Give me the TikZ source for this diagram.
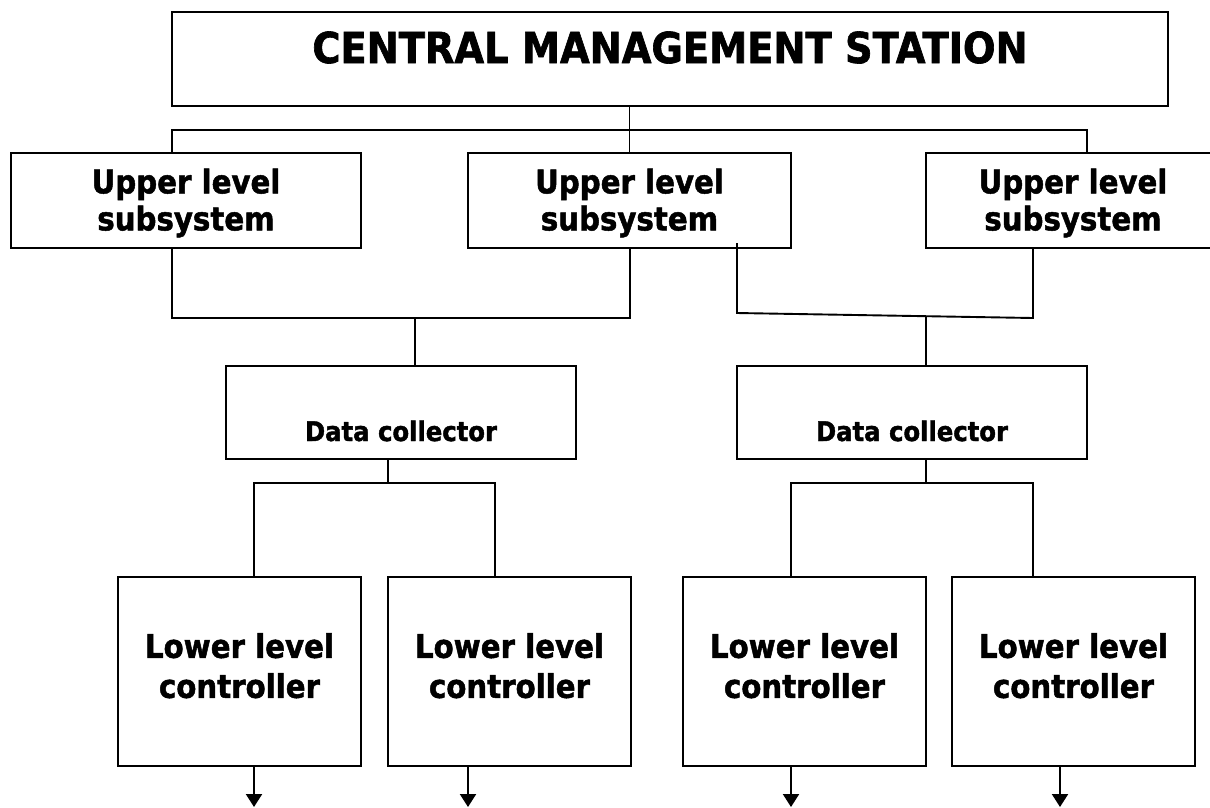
\documentclass[tikz,border=0pt]{standalone}
\usepackage{fontspec}
\setmainfont[FakeStretch=0.9, BoldFeatures={FakeBold=1.5}]{DejaVu Sans}
\usetikzlibrary{arrows.meta}
\tikzset{
  blk/.style={draw=black, line width=2pt, fill=white, inner sep=0pt, align=center, font=\bfseries},
  wire/.style={draw=black, line width=1.9pt},
  outarrow/.style={draw=black, line width=2.2pt, -{Triangle[width=16pt,length=13pt]}},
  uptext/.style={font=\bfseries\fontsize{32.5}{37}\selectfont},
  lowtext/.style={font=\bfseries\fontsize{32.5}{40}\selectfont},
  dctext/.style={font=\bfseries\fontsize{27}{32}\selectfont, text height=62pt, text depth=5pt},
}
\begin{document}
\begin{tikzpicture}[x=1pt, y=-1pt]
\useasboundingbox (0,0) rectangle (1210,807);
\fill[white] (0,0) rectangle (1210,807);

% central management station
\node[blk, minimum width=996pt, minimum height=94pt, text height=31pt, text depth=23pt,
      font=\bfseries\fontsize{42.6}{50}\selectfont] (cms) at (670,59) {CENTRAL MANAGEMENT STATION};

% upper level subsystems
\node[blk, uptext, minimum width=350pt, minimum height=95pt] (ul) at (186,200.5)
  {\rule{0pt}{29.7pt}Upper level\\subsystem};
\node[blk, uptext, minimum width=323pt, minimum height=95pt] (um) at (629.5,200.5)
  {\rule{0pt}{29.7pt}Upper level\\subsystem};
\node[blk, uptext, minimum width=294pt, minimum height=95pt] (ur) at (1073,200.5)
  {\rule{0pt}{29.7pt}Upper level\\subsystem};

% data collectors
\node[blk, dctext, minimum width=350pt, minimum height=93pt] (dcL) at (401,412.5) {Data collector};
\node[blk, dctext, minimum width=350pt, minimum height=93pt] (dcR) at (912,412.5) {Data collector};

% lower level controllers
\node[blk, lowtext, minimum width=243pt, minimum height=189pt] (l1) at (239.5,671.5)
  {Lower level\\controller\rule[-12pt]{0pt}{0pt}};
\node[blk, lowtext, minimum width=243pt, minimum height=189pt] (l2) at (509.5,671.5)
  {Lower level\\controller\rule[-12pt]{0pt}{0pt}};
\node[blk, lowtext, minimum width=243pt, minimum height=189pt] (l3) at (804.5,671.5)
  {Lower level\\controller\rule[-12pt]{0pt}{0pt}};
\node[blk, lowtext, minimum width=243pt, minimum height=189pt] (l4) at (1073.5,671.5)
  {Lower level\\controller\rule[-12pt]{0pt}{0pt}};

% junction coordinates
\coordinate (tl) at (172,130);
\coordinate (tr) at (1087,130);
\coordinate (jl1) at (172,318);
\coordinate (jl2) at (630,318);
\coordinate (jdl) at (415,318);
\coordinate (s1) at (737,243);
\coordinate (s2) at (737,313);
\coordinate (s3) at (1033,318);
\coordinate (jdr) at (926,316.2);
\coordinate (bc1) at (388,483);
\coordinate (bl1) at (254,483);
\coordinate (bl2) at (495,483);
\coordinate (bc2) at (926,483);
\coordinate (br1) at (791,483);
\coordinate (br2) at (1033,483);
\coordinate (a1) at (254,807);
\coordinate (a2) at (468,807);
\coordinate (a3) at (791,807);
\coordinate (a4) at (1060,807);

% top bus
\draw[wire] (cms.south -| um.north) -- (um.north);
\draw[wire] (ul.north -| tl) -- (tl) -- (tr) -- (ur.north -| tr);

% left join
\draw[wire] (ul.south -| jl1) -- (jl1) -- (jl2) -- (um.south -| jl2);
\draw[wire] (jdl) -- (dcL.north -| jdl);

% right join
\draw[wire] (s1) -- (s2) -- (s3) -- (ur.south -| s3);
\draw[wire] (jdr) -- (dcR.north -| jdr);

% lower buses
\draw[wire] (dcL.south -| bc1) -- (bc1);
\draw[wire] (l1.north -| bl1) -- (bl1) -- (bl2) -- (l2.north -| bl2);
\draw[wire] (dcR.south -| bc2) -- (bc2);
\draw[wire] (l3.north -| br1) -- (br1) -- (br2) -- (l4.north -| br2);

% outputs
\draw[outarrow] (l1.south -| a1) -- (a1);
\draw[outarrow] (l2.south -| a2) -- (a2);
\draw[outarrow] (l3.south -| a3) -- (a3);
\draw[outarrow] (l4.south -| a4) -- (a4);
\end{tikzpicture}
\end{document}
